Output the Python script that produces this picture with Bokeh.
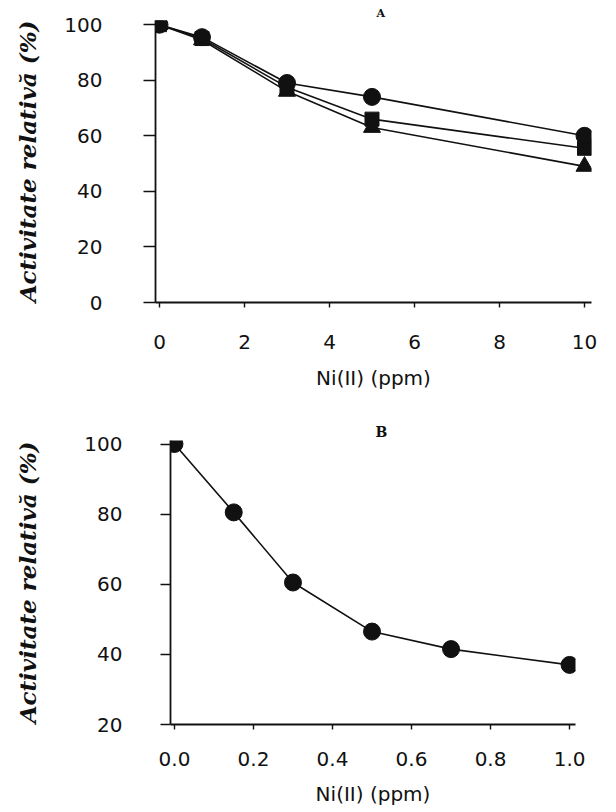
from bokeh.plotting import figure
from bokeh.layouts import column, row
from bokeh.models import FixedTicker, Range1d, Title
from bokeh.embed import file_html
from bokeh.resources import INLINE

# ---------------- data: panel A ----------------
conc_a = [0, 1, 3, 5, 10]
act_circle = [100, 95.5, 79, 74, 60]
act_square = [100, 95, 77.5, 66, 55.5]
act_triangle = [100, 94.5, 76, 63, 49]
xticks_a = [0, 2, 4, 6, 8, 10]
yticks_a = [0, 20, 40, 60, 80, 100]

# ---------------- data: panel B ----------------
conc_b = [0, 0.15, 0.3, 0.5, 0.7, 1.0]
act_b = [100, 80.5, 60.5, 46.5, 41.5, 37]
xticks_b = [0.0, 0.2, 0.4, 0.6, 0.8, 1.0]
xlabels_b = ["0.0", "0.2", "0.4", "0.6", "0.8", "1.0"]
yticks_b = [20, 40, 60, 80, 100]

x_title = "Ni(II) (ppm)"
y_title = "Activitate relativă (%)"

INK = "#111111"
TICK_FONT = "DejaVu Sans"


def style(p, xtick_out, ytick_out, xstand, ystand, xlab_stand, ylab_stand):
    p.background_fill_color = "white"
    p.border_fill_color = "white"
    p.outline_line_color = None
    p.grid.grid_line_color = None
    for ax in (p.xaxis[0], p.yaxis[0]):
        ax.axis_line_color = INK
        ax.axis_line_width = 1.8
        ax.major_tick_line_color = INK
        ax.major_tick_line_width = 1.4
        ax.minor_tick_line_color = None
        ax.major_tick_in = 0
        ax.major_label_text_font = TICK_FONT
        ax.major_label_text_font_size = "20px"
        ax.major_label_text_color = INK
    p.xaxis.major_tick_out = xtick_out
    p.yaxis.major_tick_out = ytick_out
    p.xaxis.major_label_standoff = xstand
    p.yaxis.major_label_standoff = ystand
    p.xaxis.axis_label = x_title
    p.xaxis.axis_label_text_font = TICK_FONT
    p.xaxis.axis_label_text_font_size = "20px"
    p.xaxis.axis_label_text_font_style = "normal"
    p.xaxis.axis_label_text_color = INK
    p.xaxis.axis_label_standoff = xlab_stand
    p.yaxis.axis_label = y_title
    p.yaxis.axis_label_text_font = "DejaVu Serif"
    p.yaxis.axis_label_text_font_size = "23px"
    p.yaxis.axis_label_text_font_style = "bold italic"
    p.yaxis.axis_label_text_color = INK
    p.yaxis.axis_label_standoff = ylab_stand


# ---------------- panel A ----------------
pa = figure(width=616, height=392, output_backend="svg", toolbar_location=None,
            x_range=Range1d(-0.094, 10.165), y_range=Range1d(0, 101.5),
            min_border_left=155, min_border_right=25, min_border_top=20,
            min_border_bottom=88)
pa.add_layout(Title(text="A", align="left", offset=221, standoff=2,
                    text_font="DejaVu Serif", text_font_size="11px",
                    text_font_style="bold", text_color=INK), "above")
style(pa, 5, 12, 27, 41, 14, 20)
pa.xaxis.ticker = FixedTicker(ticks=xticks_a)
pa.yaxis.ticker = FixedTicker(ticks=yticks_a)

pa.line(conc_a, act_circle, line_color=INK, line_width=1.6)
pa.line(conc_a, act_square, line_color=INK, line_width=1.6)
pa.line(conc_a, act_triangle, line_color=INK, line_width=1.6)
pa.scatter(conc_a, act_triangle, marker="triangle", size=17, fill_color=INK, line_color=INK)
pa.scatter(conc_a, act_square, marker="square", size=14, fill_color=INK, line_color=INK)
pa.scatter(conc_a, act_circle, marker="circle", size=17, fill_color=INK, line_color=INK)

# ---------------- panel B ----------------
pb = figure(width=616, height=420, output_backend="svg", toolbar_location=None,
            x_range=Range1d(-0.010, 1.015), y_range=Range1d(20, 101),
            min_border_left=170, min_border_right=41, min_border_top=48,
            min_border_bottom=88)
pb.add_layout(Title(text="B", align="left", offset=205, standoff=2,
                    text_font="DejaVu Serif", text_font_size="14px",
                    text_font_style="bold", text_color=INK), "above")
style(pb, 5, 10, 22, 38, 13, 40)
pb.xaxis.ticker = FixedTicker(ticks=xticks_b)
pb.xaxis.major_label_overrides = {t: s for t, s in zip(xticks_b, xlabels_b)}
pb.yaxis.ticker = FixedTicker(ticks=yticks_b)

pb.line(conc_b, act_b, line_color=INK, line_width=1.6)
pb.scatter(conc_b, act_b, marker="circle", size=17, fill_color=INK, line_color=INK)

layout = column(row(pa), row(pb), spacing=0)
open("out.html", "w").write(file_html(layout, INLINE))
